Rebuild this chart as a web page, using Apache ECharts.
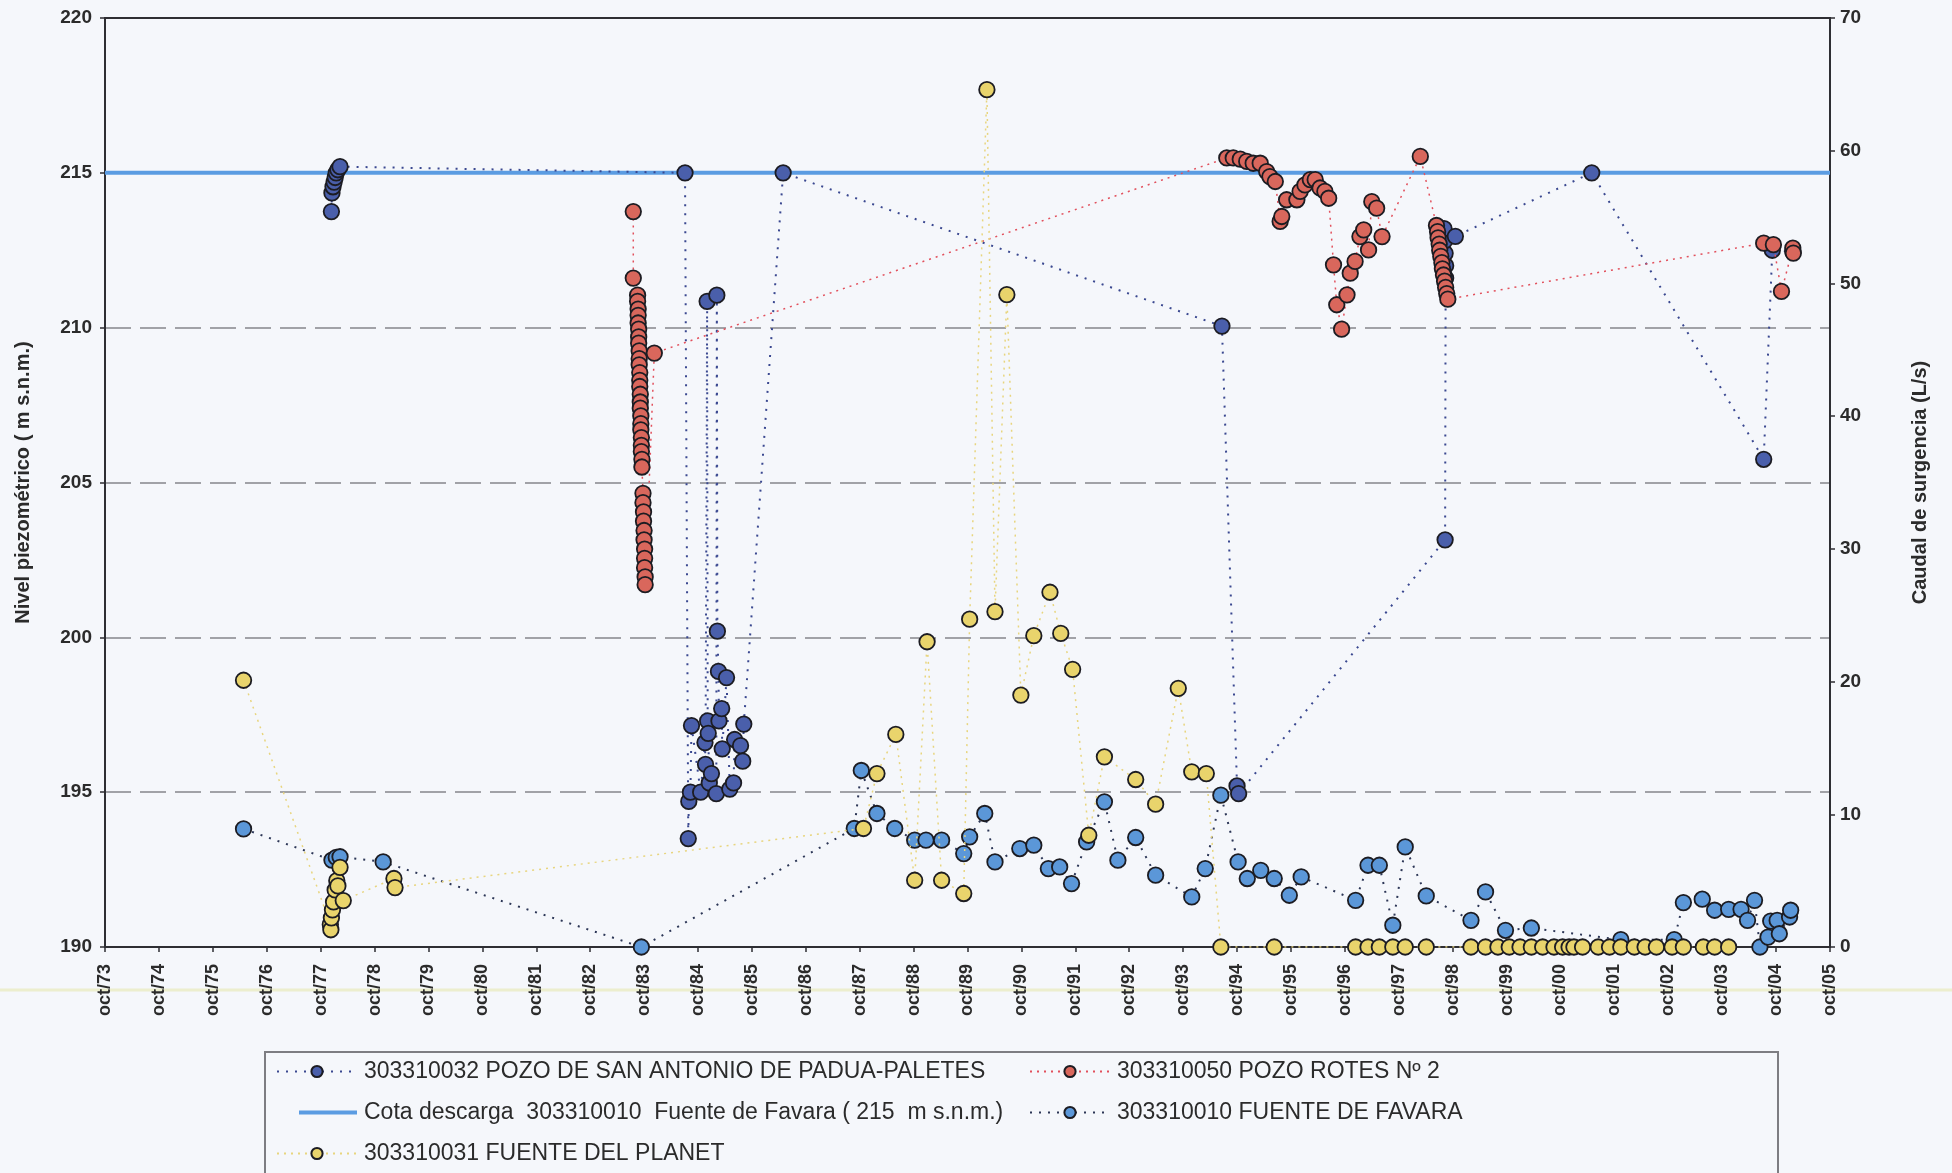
<!DOCTYPE html>
<html>
<head>
<meta charset="utf-8">
<title>Niveles piezométricos y caudales de surgencia</title>
<script src="https://cdn.jsdelivr.net/npm/echarts@6/dist/echarts.min.js"></script>
<style>
  html, body { margin: 0; padding: 0; background: #f5f7fb; }
  #chart { width: 1952px; height: 1173px; }
</style>
</head>
<body>
<div id="chart"></div>
<script>
// Origin of the time axis: October 1973 (decimal years)
const AXIS_START = 1973.75;

// Tick labels of the time axis, one per October
const xTickLabels = ['oct/73','oct/74','oct/75','oct/76','oct/77','oct/78','oct/79','oct/80','oct/81','oct/82',
  'oct/83','oct/84','oct/85','oct/86','oct/87','oct/88','oct/89','oct/90','oct/91','oct/92','oct/93','oct/94',
  'oct/95','oct/96','oct/97','oct/98','oct/99','oct/00','oct/01','oct/02','oct/03','oct/04','oct/05'];

// Discharge elevation of Fuente de Favara (m s.n.m.)
const cotaLevel = 215;

// 303310032 POZO DE SAN ANTONIO DE PADUA-PALETES (m s.n.m.)
const sanAntonioDates = [
  1977.95, 1977.96, 1977.98, 1978.00, 1978.02, 1978.04, 1978.07, 1978.11,
  1984.51,
  1984.57, 1984.58, 1984.61, 1984.63, 1984.80, 1984.88, 1984.89, 1984.92, 1984.93, 1984.94,
  1984.96, 1985.00, 1985.09, 1985.10, 1985.11, 1985.13, 1985.14, 1985.19, 1985.20, 1985.28,
  1985.34, 1985.41, 1985.43, 1985.54, 1985.58, 1985.60,
  1986.33, 1994.47, 1994.75, 1994.78,
  1998.61, 1998.62, 1998.62, 1998.61, 1998.60, 1998.59, 1998.80,
  2001.33, 2004.52, 2004.68, 2005.06
];
const sanAntonioLevels = [
  213.75, 214.35, 214.55, 214.7, 214.85, 215.0, 215.1, 215.2,
  215.0,
  193.5, 194.7, 195.0, 197.15, 195.0, 196.6, 195.9, 210.85, 197.3, 196.9,
  195.3, 195.6, 194.95, 211.05, 200.2, 198.9, 197.3, 197.7, 196.4, 198.7,
  195.1, 195.3, 196.7, 196.5, 196.0, 197.2,
  215.0, 210.05, 195.2, 194.95,
  203.15, 211.6, 212.0, 212.4, 212.8, 213.2, 212.95,
  215.0, 205.75, 212.5, 212.45
];

// 303310050 POZO ROTES Nº 2 (m s.n.m.)
const rotesDates = [
  1983.55, 1983.55,
  1983.63, 1983.63, 1983.64, 1983.64, 1983.64, 1983.65, 1983.65, 1983.65, 1983.66, 1983.66,
  1983.66, 1983.67, 1983.67, 1983.67, 1983.68, 1983.68, 1983.68, 1983.69, 1983.69, 1983.69,
  1983.70, 1983.70, 1983.70, 1983.71, 1983.71,
  1983.73, 1983.73, 1983.74, 1983.74, 1983.75, 1983.75, 1983.76, 1983.76, 1983.76, 1983.77, 1983.77,
  1983.94,
  1994.56, 1994.68, 1994.81, 1994.93, 1995.05, 1995.18, 1995.30, 1995.36, 1995.46, 1995.55,
  1995.58, 1995.67, 1995.86, 1995.92, 1996.01, 1996.11, 1996.20, 1996.29, 1996.38, 1996.45,
  1996.54, 1996.60, 1996.69, 1996.79, 1996.85, 1996.94, 1997.03, 1997.10, 1997.19, 1997.25,
  1997.34, 1997.44, 1998.15,
  1998.45, 1998.47, 1998.48, 1998.50, 1998.51, 1998.53, 1998.55, 1998.56, 1998.58, 1998.60,
  1998.62, 1998.64, 1998.66,
  2004.52, 2004.70, 2004.85, 2005.06, 2005.07
];
const rotesLevels = [
  213.75, 211.6,
  211.05, 210.85, 210.6, 210.4, 210.15, 209.95, 209.7, 209.5, 209.25, 209.0,
  208.8, 208.55, 208.3, 208.1, 207.85, 207.6, 207.4, 207.15, 206.9, 206.7,
  206.45, 206.2, 206.0, 205.75, 205.5,
  204.65, 204.35, 204.05, 203.75, 203.45, 203.15, 202.85, 202.55, 202.25, 201.95, 201.7,
  209.18,
  215.48, 215.48, 215.44, 215.37, 215.31, 215.31, 215.04, 214.88, 214.72, 213.43,
  213.59, 214.13, 214.13, 214.4, 214.61, 214.78, 214.78, 214.51, 214.4, 214.18,
  212.03, 210.74, 209.95, 211.06, 211.76, 212.14, 212.94, 213.16, 212.51, 214.07,
  213.86, 212.94, 215.53,
  213.3, 213.1, 212.9, 212.7, 212.5, 212.3, 212.1, 211.9, 211.7, 211.5,
  211.3, 211.1, 210.92,
  212.73, 212.68, 211.17, 212.57, 212.41
];

// 303310010 FUENTE DE FAVARA (L/s)
const favaraDates = [
  1976.32, 1977.96, 1978.04, 1978.11, 1978.91, 1983.70,
  1987.65, 1987.78, 1988.07, 1988.40, 1988.77, 1988.98, 1989.27, 1989.68, 1989.79, 1990.07,
  1990.26, 1990.72, 1990.98, 1991.25, 1991.46, 1991.68, 1991.96, 1992.29, 1992.54, 1992.87,
  1993.24, 1993.91, 1994.16, 1994.45, 1994.77, 1994.94, 1995.19, 1995.44, 1995.72, 1995.94,
  1996.95, 1997.18, 1997.39, 1997.64, 1997.87, 1998.26, 1999.09, 1999.36, 1999.73, 2000.21,
  2001.87, 2002.86, 2003.03, 2003.38, 2003.61, 2003.87, 2004.10, 2004.22, 2004.35, 2004.45,
  2004.60, 2004.65, 2004.77, 2004.81, 2005.00, 2005.02
];
const favaraFlows = [
  8.9, 6.55, 6.75, 6.8, 6.41, 0,
  8.93, 13.3, 10.06, 8.93, 8.05, 8.05, 8.05, 7.04, 8.3, 10.06,
  6.41, 7.42, 7.67, 5.91, 6.03, 4.78, 7.92, 10.94, 6.54, 8.25,
  5.41, 3.77, 5.91, 11.44, 6.41, 5.16, 5.78, 5.16, 3.9, 5.28,
  3.52, 6.16, 6.16, 1.64, 7.54, 3.85, 2.01, 4.15, 1.26, 1.43,
  0.55, 0.55, 3.35, 3.6, 2.77, 2.84, 2.84, 2.01, 3.52, 0,
  0.75, 1.95, 2.0, 1.0, 2.26, 2.77
];

// 303310031 FUENTE DEL PLANET (L/s)
const planetDates = [
  1976.32,
  1977.93, 1977.94, 1977.95, 1977.97, 1977.99, 1978.02, 1978.05, 1978.07, 1978.11, 1978.17,
  1979.11, 1979.13,
  1987.82, 1988.07, 1988.42, 1988.77, 1989.00, 1989.27, 1989.68, 1989.79, 1990.11, 1990.26,
  1990.48, 1990.74, 1990.98, 1991.28, 1991.48, 1991.70, 1992.00, 1992.29, 1992.87, 1993.24,
  1993.66, 1993.91, 1994.18, 1994.45, 1995.44,
  1996.95, 1997.18, 1997.39, 1997.64, 1997.87, 1998.26, 1999.09, 1999.36, 1999.59, 1999.80,
  2000.00, 2000.21, 2000.42, 2000.63, 2000.79, 2000.91, 2001.00, 2001.16, 2001.45, 2001.66,
  2001.87, 2002.12, 2002.32, 2002.53, 2002.82, 2003.03, 2003.40, 2003.61, 2003.87
];
const planetFlows = [
  20.1,
  1.7, 1.3, 2.2, 2.8, 3.4, 4.3, 5.0, 4.6, 6.0, 3.5,
  5.16, 4.48,
  8.93, 13.07, 16.02, 5.03, 23.0, 5.03, 4.03, 24.7, 64.6, 25.27,
  49.15, 18.98, 23.46, 26.73, 23.63, 20.92, 8.42, 14.33, 12.62, 10.76,
  19.49, 13.2, 13.07, 0, 0,
  0, 0, 0, 0, 0, 0, 0, 0, 0, 0,
  0, 0, 0, 0, 0, 0, 0, 0, 0, 0,
  0, 0, 0, 0, 0, 0, 0, 0, 0
];

// Legend names
const NAME_SAN_ANTONIO = '303310032 POZO DE SAN ANTONIO DE PADUA-PALETES';
const NAME_ROTES = '303310050 POZO ROTES Nº 2';
const NAME_COTA = 'Cota descarga  303310010  Fuente de Favara ( 215  m s.n.m.)';
const NAME_FAVARA = '303310010 FUENTE DE FAVARA';
const NAME_PLANET = '303310031 FUENTE DEL PLANET';

const FONT = '"Liberation Sans", Arial, Helvetica, sans-serif';
const TEXT = '#2b2b2b';
const AXIS_COLOR = '#2e2e33';
const MARKER_SIZE = 15.5;

function toPairs(dates, values) {
  return dates.map((d, i) => [d - AXIS_START, values[i]]);
}

const markerBorder = { borderColor: '#1c1c22', borderWidth: 1.8 };

const chart = echarts.init(document.getElementById('chart'), null, { renderer: 'canvas' });

function legendAt(name, left, top, itemWidth, extra) {
  return Object.assign({
    show: true,
    data: [name],
    left: left,
    top: top,
    orient: 'horizontal',
    itemWidth: itemWidth,
    itemHeight: 14,
    itemGap: 0,
    padding: 0,
    selectedMode: false,
    textStyle: { fontFamily: FONT, fontSize: 23, color: TEXT, padding: [0, 0, 0, 2] }
  }, extra || {});
}

const option = {
  animation: false,
  backgroundColor: '#f5f7fb',
  textStyle: { fontFamily: FONT },
  grid: {
    left: 105, right: 122, top: 18, bottom: 226,
    show: true, borderColor: AXIS_COLOR, borderWidth: 2, backgroundColor: 'transparent'
  },
  legend: [
    legendAt(NAME_SAN_ANTONIO, 276, 1060, 80),
    legendAt(NAME_ROTES, 1029, 1060, 80),
    legendAt(NAME_COTA, 299, 1101, 58, {
      data: [{ name: NAME_COTA, icon: 'rect' }], itemHeight: 4
    }),
    legendAt(NAME_FAVARA, 1029, 1101, 80),
    legendAt(NAME_PLANET, 276, 1142, 80)
  ],
  graphic: [
    {
      type: 'line', silent: true, z: -1,
      shape: { x1: 0, y1: 990, x2: 1952, y2: 990 },
      style: { stroke: 'rgba(228,232,170,0.55)', lineWidth: 3 }
    },
    {
      type: 'rect', silent: true,
      shape: { x: 265, y: 1052, width: 1513, height: 140 },
      style: { fill: 'none', stroke: '#7d7d82', lineWidth: 2 }
    }
  ],
  xAxis: {
    type: 'value',
    min: 0, max: 32, interval: 1,
    axisLine: { show: true, onZero: false, lineStyle: { color: AXIS_COLOR, width: 2 } },
    axisTick: { show: true, length: 5, lineStyle: { color: AXIS_COLOR, width: 1.5 } },
    splitLine: { show: false },
    axisLabel: {
      rotate: 90, margin: 17, fontSize: 18, fontWeight: 'bold', color: TEXT, fontFamily: FONT,
      formatter: v => xTickLabels[Math.round(v)] || ''
    }
  },
  yAxis: [
    {
      type: 'value', position: 'left',
      min: 190, max: 220, interval: 5,
      name: 'Nivel piezométrico ( m s.n.m.)',
      nameLocation: 'middle', nameRotate: 90, nameGap: 72,
      nameTextStyle: { fontFamily: FONT, fontSize: 20, fontWeight: 'bold', color: TEXT },
      axisLine: { show: true, lineStyle: { color: AXIS_COLOR, width: 2 } },
      axisTick: { show: true, length: 5, lineStyle: { color: AXIS_COLOR, width: 1.5 } },
      axisLabel: { fontSize: 19, fontWeight: 'bold', color: TEXT, margin: 13, fontFamily: FONT },
      splitLine: {
        show: true, showMinLine: false, showMaxLine: false,
        lineStyle: { color: '#85868c', width: 1.5, type: [26, 9] }
      }
    },
    {
      type: 'value', position: 'right',
      min: 0, max: 70, interval: 10,
      name: 'Caudal de surgencia (L/s)',
      nameLocation: 'middle', nameRotate: 90, nameGap: 80,
      nameTextStyle: { fontFamily: FONT, fontSize: 20, fontWeight: 'bold', color: TEXT },
      axisLine: { show: true, lineStyle: { color: AXIS_COLOR, width: 2 } },
      axisTick: { show: true, length: 5, lineStyle: { color: AXIS_COLOR, width: 1.5 } },
      axisLabel: { fontSize: 19, fontWeight: 'bold', color: TEXT, margin: 10, fontFamily: FONT },
      splitLine: { show: false }
    }
  ],
  series: [
    {
      name: NAME_COTA, type: 'line', yAxisIndex: 0, z: 2,
      data: [[0, cotaLevel], [32, cotaLevel]],
      symbol: 'none',
      lineStyle: { color: '#5b9ce2', width: 4, type: 'solid' },
      itemStyle: { color: '#5b9ce2' }
    },
    {
      name: NAME_SAN_ANTONIO, type: 'line', yAxisIndex: 0, z: 3,
      data: toPairs(sanAntonioDates, sanAntonioLevels),
      symbol: 'circle', symbolSize: MARKER_SIZE,
      itemStyle: Object.assign({ color: '#4a5fab' }, markerBorder),
      lineStyle: { color: '#3a4890', width: 2, type: [2, 7] }
    },
    {
      name: NAME_ROTES, type: 'line', yAxisIndex: 0, z: 4,
      data: toPairs(rotesDates, rotesLevels),
      symbol: 'circle', symbolSize: MARKER_SIZE,
      itemStyle: Object.assign({ color: '#d9675c' }, markerBorder),
      lineStyle: { color: '#e2505c', width: 1.5, type: [2, 5] }
    },
    {
      name: NAME_FAVARA, type: 'line', yAxisIndex: 1, z: 5,
      data: toPairs(favaraDates, favaraFlows),
      symbol: 'circle', symbolSize: MARKER_SIZE,
      itemStyle: Object.assign({ color: '#5b97d8' }, markerBorder),
      lineStyle: { color: '#2c3656', width: 2, type: [2, 7] }
    },
    {
      name: NAME_PLANET, type: 'line', yAxisIndex: 1, z: 6,
      data: toPairs(planetDates, planetFlows),
      symbol: 'circle', symbolSize: MARKER_SIZE,
      itemStyle: Object.assign({ color: '#e9d46c' }, markerBorder),
      lineStyle: { color: '#e8d57e', width: 1.5, type: [2, 5] }
    }
  ]
};

chart.setOption(option);
</script>
</body>
</html>
